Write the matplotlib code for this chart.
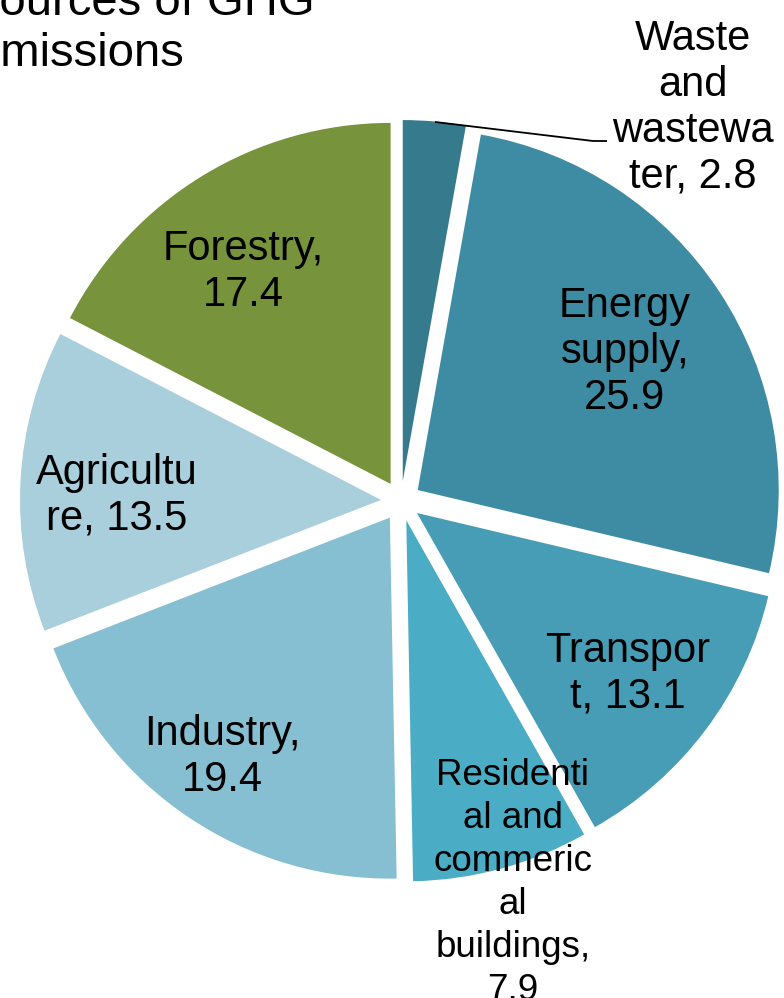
import matplotlib.pyplot as plt

plt.rcParams['font.family'] = ['Liberation Sans', 'DejaVu Sans']

# Sources of GHG emissions, share in percent
sectors = ['Waste and wastewater', 'Energy supply', 'Transport',
           'Residential and commerical buildings', 'Industry',
           'Agriculture', 'Forestry']
shares = [2.8, 25.9, 13.1, 7.9, 19.4, 13.5, 17.4]
labels = ['Waste\nand\nwastewa\nter, 2.8', 'Energy\nsupply,\n25.9',
          'Transpor\nt, 13.1',
          'Residenti\nal and\ncommeric\nal\nbuildings,\n7.9',
          'Industry,\n19.4', 'Agricultu\nre, 13.5', 'Forestry,\n17.4']
colors = ['#357b8d', '#3d8ca3', '#479db5', '#4aacc5', '#86bfd1',
          '#a9cfdc', '#77933c']

W, H = 784, 998
fig = plt.figure(figsize=(W / 100, H / 100), dpi=100)
ax = fig.add_axes([0, 0, 1, 1])

# pixel-like coordinates, y grows downwards; explode is in data units here
ax.pie(shares, colors=colors, center=(401, 501), radius=361,
       explode=[20] * len(shares), startangle=-90, counterclock=True,
       wedgeprops=dict(linewidth=0))
ax.set_xlim(0, W)
ax.set_ylim(H, 0)
ax.set_aspect('equal')
ax.axis('off')

label_pos = [(693, 108), (625, 352), (628, 674), (513, 883),
             (222, 757), (117, 496), (243, 272)]
for text, (x, y) in zip(labels, label_pos):
    small = text.startswith('Residenti')
    ax.text(x, y, text, ha='center', va='center',
            fontsize=26.5 if small else 30,
            linespacing=1.29 if small else 1.19, color='black')

# leader line for the small waste slice
ax.plot([435, 593, 607], [122, 141, 141], color='black', lw=1.3,
        solid_capstyle='butt')

ax.text(-32, 15, 'Sources of GHG', fontsize=34, ha='left', va='baseline')
ax.text(-26, 66, 'emissions', fontsize=34, ha='left', va='baseline')

fig.savefig('out.png', dpi=100)
